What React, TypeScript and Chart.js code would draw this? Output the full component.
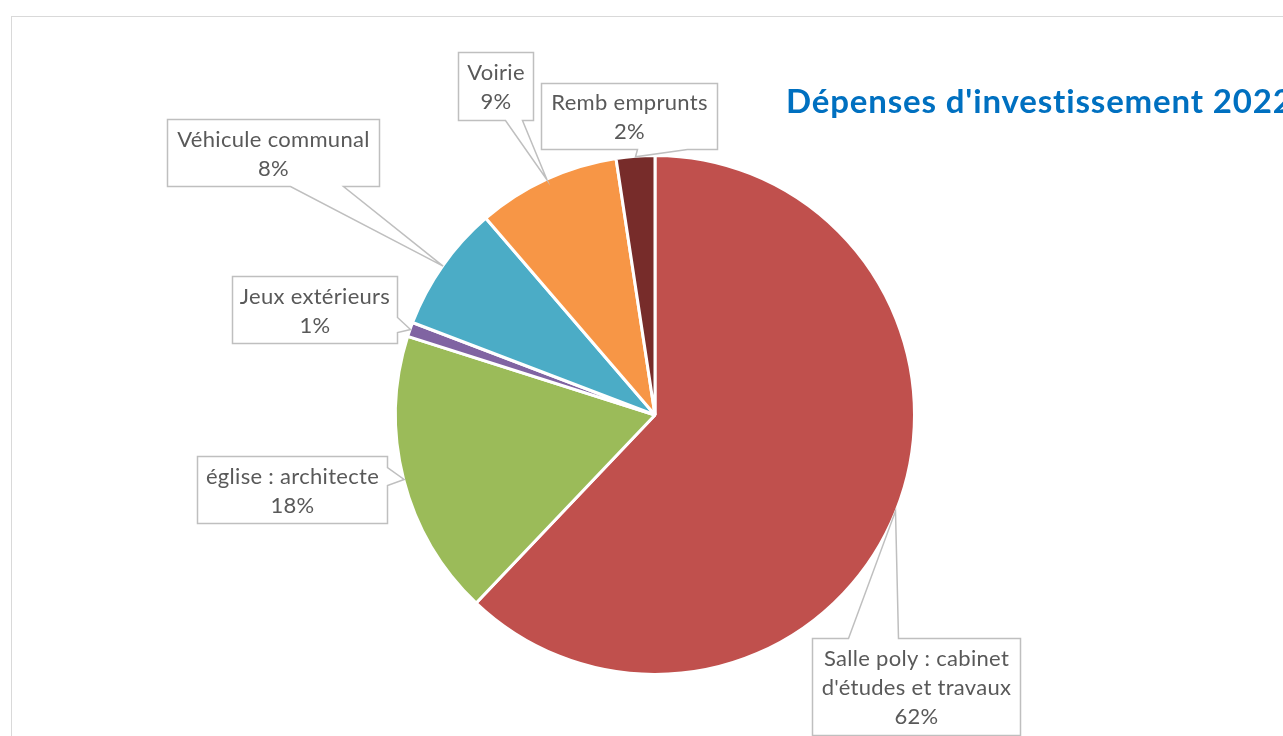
import React, { useEffect, useRef } from "react";
import { Chart, registerables } from "chart.js";

Chart.register(...registerables);

// ---- data ----
const categories = [
  "Salle poly : cabinet d'études et travaux",
  "église : architecte",
  "Jeux extérieurs",
  "Véhicule communal",
  "Voirie",
  "Remb emprunts",
];
const labelLines = [
  ["Salle poly : cabinet", "d'études et travaux"],
  ["église : architecte"],
  ["Jeux extérieurs"],
  ["Véhicule communal"],
  ["Voirie"],
  ["Remb emprunts"],
];
const values = [62.1, 17.8, 0.9, 7.9, 8.9, 2.4];
const sliceColors = ["#C0504D", "#9BBB59", "#8064A2", "#4BACC6", "#F79646", "#772C2A"];
const titleText = "Dépenses d'investissement 2022";

// ---- layout of callout boxes (centre offset in pie radii, box size in px, wedge side/base) ----
const labelLayout = [
  { cx: 1.012, cy: 1.052, w: 208, h: 97, side: "top", a: 36, b: 86 },
  { cx: -1.407, cy: 0.289, w: 190, h: 67, side: "right", a: 11, b: 29 },
  { cx: -1.32, cy: -0.409, w: 165, h: 67, side: "right", a: 41, b: 56 },
  { cx: -1.481, cy: -1.017, w: 212, h: 67, side: "bottom", a: 123, b: 176 },
  { cx: -0.618, cy: -1.275, w: 75, h: 68, side: "bottom", a: 47, b: 64 },
  { cx: -0.101, cy: -1.159, w: 176, h: 66, side: "bottom", a: 96, b: 146 },
];

const W = 1283;
const H = 736;
const BORDER = 3;
const LABEL_FONT = "22px Lato, 'Open Sans', sans-serif";
const TITLE_FONT = "bold 33px Lato, 'Open Sans', sans-serif";

const framePlugin = {
  id: "frame",
  beforeDraw(chart: any) {
    const ctx = chart.ctx;
    ctx.save();
    ctx.fillStyle = "#FFFFFF";
    ctx.fillRect(0, 0, chart.width, chart.height);
    ctx.strokeStyle = "#D9D9D9";
    ctx.lineWidth = 1;
    ctx.strokeRect(11.5, 16.5, 3000, 3000);
    ctx.restore();
  },
};

const calloutPlugin = {
  id: "callouts",
  afterDraw(chart: any) {
    const ctx = chart.ctx;
    const meta = chart.getDatasetMeta(0);
    const total = values.reduce((s, v) => s + v, 0);
    ctx.save();
    meta.data.forEach((arc: any, i: number) => {
      const lay = labelLayout[i];
      const R = arc.outerRadius - BORDER / 2;
      const mid = (arc.startAngle + arc.endAngle) / 2;
      const tipX = arc.x + (R + 1) * Math.cos(mid);
      const tipY = arc.y + (R + 1) * Math.sin(mid);
      const bx = arc.x + lay.cx * R;
      const by = arc.y + lay.cy * R;
      const L = Math.round(bx - lay.w / 2) + 0.5;
      const T = Math.round(by - lay.h / 2) + 0.5;
      const Rr = L + lay.w;
      const B = T + lay.h;
      ctx.beginPath();
      ctx.moveTo(L, T);
      if (lay.side === "top") {
        ctx.lineTo(L + lay.a, T);
        ctx.lineTo(tipX, tipY);
        ctx.lineTo(L + lay.b, T);
      }
      ctx.lineTo(Rr, T);
      if (lay.side === "right") {
        ctx.lineTo(Rr, T + lay.a);
        ctx.lineTo(tipX, tipY);
        ctx.lineTo(Rr, T + lay.b);
      }
      ctx.lineTo(Rr, B);
      if (lay.side === "bottom") {
        ctx.lineTo(L + lay.b, B);
        ctx.lineTo(tipX, tipY);
        ctx.lineTo(L + lay.a, B);
      }
      ctx.lineTo(L, B);
      if (lay.side === "left") {
        ctx.lineTo(L, T + lay.b);
        ctx.lineTo(tipX, tipY);
        ctx.lineTo(L, T + lay.a);
      }
      ctx.closePath();
      ctx.fillStyle = "#FFFFFF";
      ctx.fill();
      ctx.strokeStyle = "#BFBFBF";
      ctx.lineWidth = 1.5;
      ctx.lineJoin = "miter";
      ctx.stroke();

      const pct = Math.round((values[i] / total) * 100) + "%";
      const lines = [...labelLines[i], pct];
      const lh = 29;
      ctx.fillStyle = "#595959";
      ctx.font = LABEL_FONT;
      (ctx as any).letterSpacing = "0.3px";
      ctx.textAlign = "center";
      ctx.textBaseline = "middle";
      const cxText = (L + Rr) / 2;
      const startY = (T + B) / 2 - ((lines.length - 1) * lh) / 2;
      lines.forEach((ln, k) => ctx.fillText(ln, cxText, startY + k * lh + 1));
    });

    ctx.fillStyle = "#0070C0";
    ctx.font = TITLE_FONT;
    (ctx as any).letterSpacing = "0.85px";
    ctx.textAlign = "left";
    ctx.textBaseline = "alphabetic";
    ctx.fillText(titleText, 786, 113);
    ctx.restore();
  },
};

export default function App() {
  const ref = useRef<HTMLCanvasElement | null>(null);
  useEffect(() => {
    document.body.style.margin = "0";
    document.body.style.overflow = "hidden";
    const canvas = ref.current;
    if (!canvas) return;
    const chart = new Chart(canvas, {
      type: "pie",
      data: {
        labels: categories,
        datasets: [
          {
            data: values,
            backgroundColor: sliceColors,
            borderColor: "#FFFFFF",
            borderWidth: BORDER,
          },
        ],
      },
      options: {
        responsive: false,
        animation: false,
        devicePixelRatio: 1,
        layout: { padding: { top: 154, bottom: 60, left: 394, right: 367 } },
        plugins: {
          legend: { display: false },
          tooltip: { enabled: false },
          title: { display: false },
        },
      },
      plugins: [framePlugin, calloutPlugin],
    });
    return () => chart.destroy();
  }, []);
  return (
    <div style={{ position: "fixed", left: 0, top: 0, width: W, height: H, overflow: "hidden", background: "#fff" }}>
      <canvas ref={ref} width={W} height={H} style={{ display: "block", width: W, height: H }} />
    </div>
  );
}
